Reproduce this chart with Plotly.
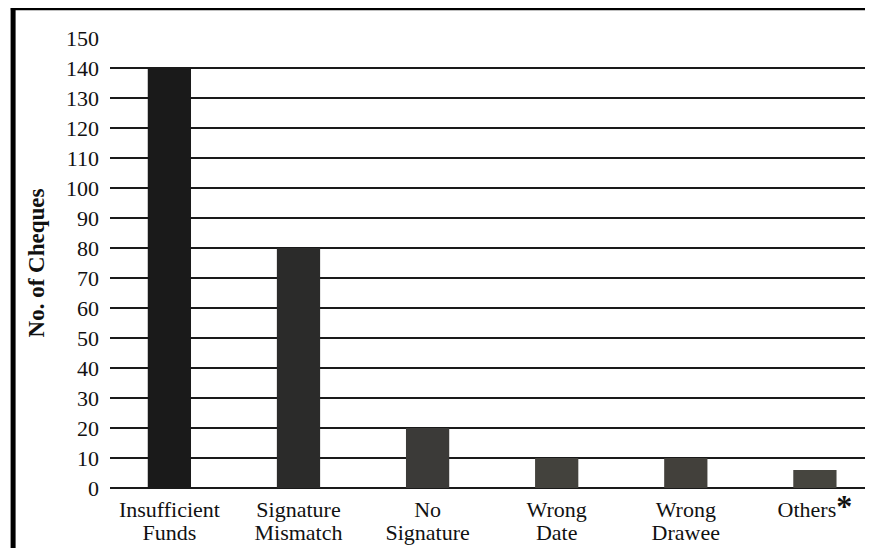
import plotly.graph_objects as go

label_lines = [["Insufficient", "Funds"], ["Signature", "Mismatch"], ["No", "Signature"],
               ["Wrong", "Date"], ["Wrong", "Drawee"], ["Others", None]]
cheques = [140, 80, 20, 10, 10, 6]
bar_colors = ["#1a1a1a", "#2b2b2a", "#3b3a38", "#43423d", "#42403b", "#46453f"]
y_ticks = list(range(0, 151, 10))

serif = "Liberation Serif, Times New Roman, serif"


def big(s):
    return f"<span style='font-size:22px'>{s}</span>"


ticktext = []
for first, second in label_lines:
    if second is None:
        ticktext.append(big(first) + "<b><span style='font-size:32px'>*</span></b>")
    else:
        ticktext.append(big(first) + "<br>" + big(second))

fig = go.Figure(go.Bar(
    x=list(range(len(cheques))),
    y=cheques,
    marker=dict(color=bar_colors, line=dict(width=0)),
    width=0.335,
))

fig.update_layout(
    width=865, height=540,
    margin=dict(l=102, r=0, t=30, b=60),
    paper_bgcolor="white", plot_bgcolor="white",
    showlegend=False,
    font=dict(family=serif, color="#1a1a1a"),
    xaxis=dict(
        tickmode="array", tickvals=list(range(len(cheques))), ticktext=ticktext,
        range=[-0.46, 5.45], showgrid=False, zeroline=False, showline=False,
        tickfont=dict(size=18, family=serif, color="#111111"),
        ticks="", ticklabelstandoff=10,
    ),
    yaxis=dict(
        range=[0, 150], tickvals=y_ticks,
        showgrid=True, gridcolor="#1a1a1a", gridwidth=2,
        zeroline=True, zerolinecolor="#1a1a1a", zerolinewidth=2,
        showline=False, ticks="", ticklabelstandoff=10,
        tickfont=dict(size=22, family=serif, color="#111111"),
        title=dict(text="<b>No. of Cheques</b>", standoff=14,
                   font=dict(size=23, family=serif, color="#111111")),
    ),
    shapes=[
        dict(type="line", xref="paper", yref="paper", x0=-0.13, x1=1.02,
             y0=1.067, y1=1.067, line=dict(color="black", width=5)),
        dict(type="line", xref="paper", yref="paper", x0=-0.127, x1=-0.127,
             y0=1.072, y1=-0.14, line=dict(color="black", width=5)),
    ],
)

fig.write_html("out.html")
